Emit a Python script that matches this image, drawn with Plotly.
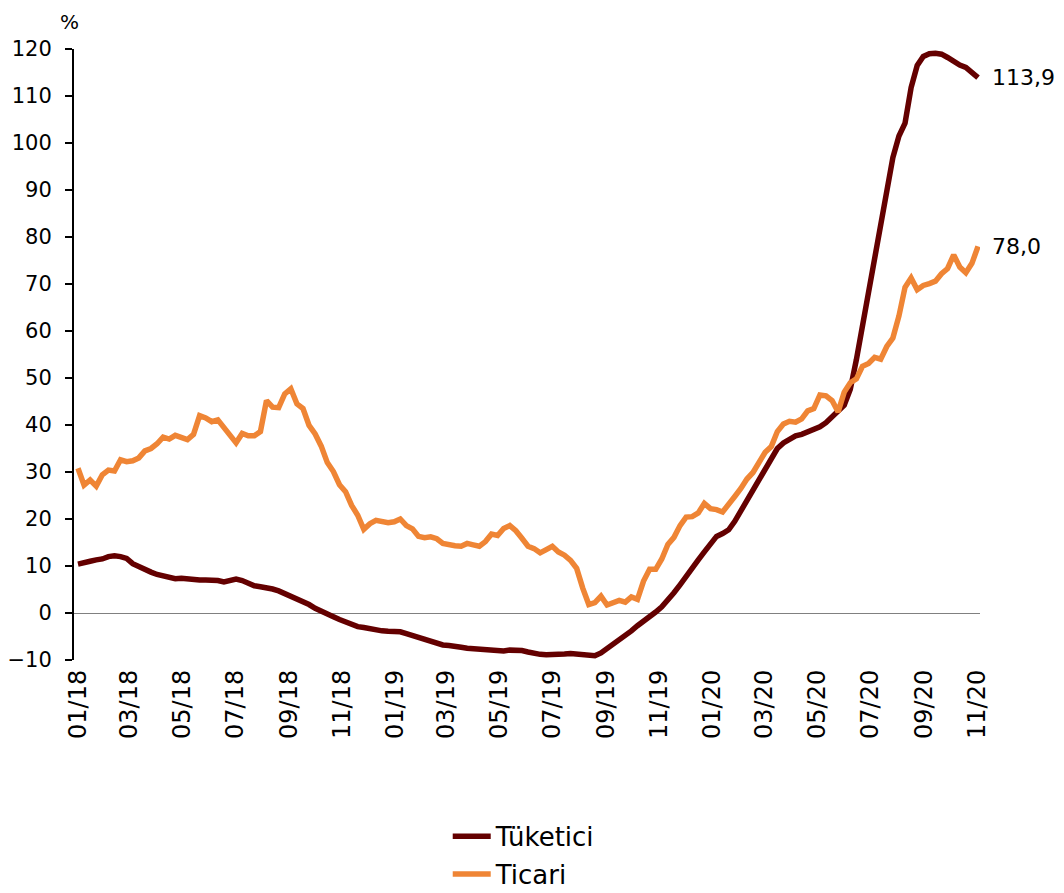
import pandas as pd
import plotly.graph_objects as go

# ── Data (weekly, %) ──────────────────────────────────────────────────────────

dates = pd.date_range("2018-01-01", periods=149, freq="7D")

tuketici = [
    10.4, 10.6, 11.0, 11.3, 11.5, 12.0, 12.2, 12.0, 11.6, 10.5,
    9.8, 9.1, 8.7, 8.2, 7.8, 7.5, 7.3, 7.4, 7.2, 7.0,
    7.0, 7.0, 7.0, 6.9, 6.6, 6.9, 7.2, 6.9, 6.2, 5.8,
    5.6, 5.4, 5.1, 4.7, 4.1, 3.6, 3.1, 2.6, 1.8, 1.0,
    0.5, -0.1, -0.8, -1.4, -2.0, -2.4, -2.9, -3.1, -3.4, -3.6,
    -3.8, -3.9, -4.0, -4.0, -4.4, -4.8, -5.0, -5.5, -6.0, -6.5,
    -6.8, -6.9, -7.0, -7.3, -7.5, -7.6, -7.7, -7.7, -7.9, -8.0,
    -8.1, -7.9, -7.9, -8.0, -8.3, -8.7, -8.8, -8.9, -8.9, -8.8,
    -8.7, -8.6, -8.7, -8.8, -9.0, -9.1, -8.5, -7.6, -6.5, -5.7,
    -4.8, -3.8, -2.7, -1.8, -0.9, 0.2, 1.3, 2.6, 4.3, 6.0,
    7.9, 9.7, 11.3, 13.0, 14.9, 16.3, 16.9, 17.7, 19.5, 21.7,
    24.0, 26.3, 28.4, 30.6, 32.9, 35.0, 36.2, 37.0, 37.7, 38.0,
    38.5, 39.0, 39.6, 40.5, 41.9, 43.0, 44.2, 47.6, 53.9, 61.0,
    69.0, 76.7, 82.9, 89.4, 96.9, 101.5, 104.2, 111.8, 116.5, 118.4,
    119.0, 119.1, 118.9, 118.2, 117.3, 116.6, 116.1, 115.0, 113.9,
]

ticari = [
    30.8, 27.2, 28.3, 27.0, 29.4, 30.4, 30.2, 32.6, 32.2, 32.4,
    33.0, 34.5, 35.0, 36.0, 37.4, 37.0, 37.8, 37.3, 36.9, 38.0,
    42.0, 41.5, 40.7, 41.1, 39.6, 37.7, 36.2, 38.2, 37.7, 37.7,
    38.6, 45.2, 43.8, 43.7, 46.6, 47.7, 44.5, 43.5, 39.9, 38.1,
    35.5, 32.0, 30.1, 27.3, 25.8, 22.9, 20.8, 17.8, 19.0, 19.7,
    19.3, 19.2, 19.4, 20.0, 18.6, 17.9, 16.3, 16.0, 16.2, 15.8,
    14.8, 14.4, 14.3, 14.2, 14.8, 14.5, 14.2, 15.2, 16.8, 16.5,
    18.0, 18.6, 17.5, 15.9, 14.2, 13.7, 12.8, 13.5, 14.2, 13.0,
    12.3, 11.2, 9.5, 5.3, 1.8, 2.2, 3.6, 1.7, 2.1, 2.7,
    2.3, 3.4, 2.9, 6.8, 9.3, 9.3, 11.5, 14.6, 16.1, 18.6,
    20.4, 20.5, 21.3, 23.3, 22.2, 22.0, 21.5, 23.0, 24.8, 26.5,
    28.5, 29.9, 32.0, 34.2, 35.4, 38.6, 40.2, 40.8, 40.6, 41.3,
    43.0, 43.5, 46.4, 46.2, 45.2, 42.8, 47.0, 49.0, 49.8, 52.5,
    53.1, 54.4, 54.0, 56.7, 58.5, 63.2, 69.3, 71.3, 68.8, 69.7,
    70.1, 70.6, 72.2, 73.3, 76.2, 73.6, 72.4, 74.4, 78.0,
]

tick_dates = pd.date_range("2018-01-01", "2020-11-01", freq="2MS")

TUKETICI_COLOR = "#640000"
TICARI_COLOR = "#EF8535"
FONT = "DejaVu Sans"

# ── Plot ──────────────────────────────────────────────────────────────────────

fig = go.Figure()
fig.add_trace(go.Scatter(
    x=dates, y=tuketici, name="Tüketici", mode="lines", legendgroup="t",
    line=dict(color=TUKETICI_COLOR, width=5.5),
))
fig.add_trace(go.Scatter(
    x=dates, y=ticari, name="Ticari", mode="lines", legendgroup="c",
    line=dict(color=TICARI_COLOR, width=5.5),
))

# end-of-series value labels
for series in (tuketici, ticari):
    fig.add_annotation(
        x=dates[-1], y=series[-1], text=f"{series[-1]:.1f}".replace(".", ","),
        showarrow=False, xanchor="left", yanchor="middle", xshift=12,
        font=dict(family=FONT, size=22, color="#000000"),
    )

fig.add_annotation(
    x=0, y=1, xref="paper", yref="paper", text="%", showarrow=False,
    xanchor="center", yanchor="top", xshift=-5, yshift=41,
    font=dict(family=FONT, size=20, color="#000000"),
)

# page body adds an 8px offset, so the figure is 8px smaller on the left/top;
# it is made a little taller than the window so the legend never pushes the margin
fig.update_layout(
    width=1056,
    height=910,
    margin=dict(l=66, r=84, t=41, b=258),
    plot_bgcolor="white",
    paper_bgcolor="white",
    font=dict(family=FONT, size=20, color="#000000"),
    showlegend=True,
    legend=dict(
        orientation="v", x=0.4125, xanchor="left", y=-0.25, yanchor="top",
        font=dict(family=FONT, size=26), itemwidth=38,
        tracegroupgap=1,
    ),
    xaxis=dict(
        type="date",
        range=["2017-12-27 10:00", "2020-11-04 07:00"],
        tickvals=tick_dates,
        tickformat="%m/%y",
        tickangle=-90,
        showgrid=False,
        showline=False,
        ticks="",
        ticklabelstandoff=4,
        tickfont=dict(size=24),
        automargin=False,
    ),
    yaxis=dict(
        range=[-10, 120],
        dtick=10,
        tick0=0,
        showgrid=False,
        showline=True,
        linecolor="#000000",
        linewidth=2,
        ticks="outside",
        ticklen=7,
        tickwidth=2,
        tickcolor="#000000",
        zeroline=True,
        zerolinecolor="#808080",
        zerolinewidth=1,
        ticklabelstandoff=9,
        tickfont=dict(size=21),
        automargin=False,
    ),
)

fig.write_html("out.html")
